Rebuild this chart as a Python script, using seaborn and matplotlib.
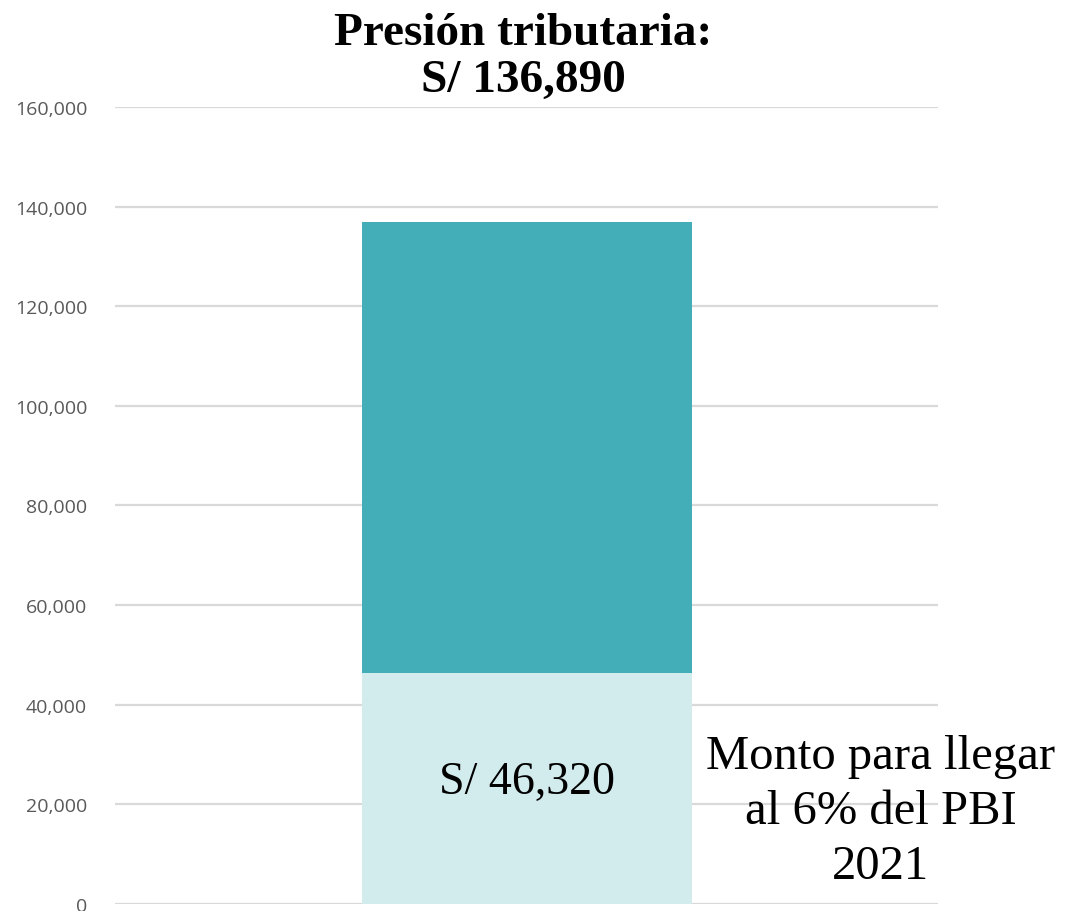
import matplotlib
matplotlib.use("Agg")
import matplotlib.pyplot as plt
import seaborn as sns
import pandas as pd
from matplotlib.ticker import FuncFormatter

categoria = ["2021"]
monto_6pct = [46320]
presion_total = [136890]

df = pd.DataFrame({"categoria": categoria, "base": monto_6pct, "total": presion_total})

sns.set_theme(style="white")
plt.rcParams["font.family"] = ["Open Sans", "DejaVu Sans"]

fig = plt.figure(figsize=(10.68, 9.12), dpi=100)
ax = fig.add_axes([0.1077, 0.0077, 0.7706, 0.874])

# barra total (parte superior) y encima la base
sns.barplot(data=df, x="categoria", y="total", color="#43aeb8", width=1.0,
            saturation=1, ax=ax)
sns.barplot(data=df, x="categoria", y="base", color="#d2ebec", width=1.0,
            saturation=1, ax=ax)
for p in ax.patches:
    p.set_linewidth(0)

ax.set_xlim(-1.247, 1.247)
ax.set_ylim(0, 160000)
ax.set_yticks(range(0, 160001, 20000))
ax.yaxis.set_major_formatter(FuncFormatter(lambda v, p: f"{int(v):,}"))
ax.grid(axis="y", color="#d9d9d9", linewidth=1.6, zorder=0)
ax.set_axisbelow(True)
ax.set_xticks([])
ax.set_xlabel("")
ax.set_ylabel("")
ax.tick_params(axis="y", colors="#595959", labelsize=14, length=0, pad=20)
for s in ax.spines.values():
    s.set_visible(False)

ax.text(0, 24500, f"S/ {monto_6pct[0]:,}", ha="center", va="center",
        fontsize=33, family="Liberation Serif", color="black")
ax.text(1.074, 18670, "Monto para llegar\nal 6% del PBI\n2021",
        ha="center", va="center", fontsize=35, family="Liberation Serif",
        linespacing=1.32, color="black", clip_on=False)

fig.text(0.49, 0.937, f"Presión tributaria:\nS/ {presion_total[0]:,}", ha="center",
         va="center", fontsize=34, fontweight="bold", family="Liberation Serif",
         linespacing=1.17, color="black")

fig.savefig("out.png", dpi=100)
